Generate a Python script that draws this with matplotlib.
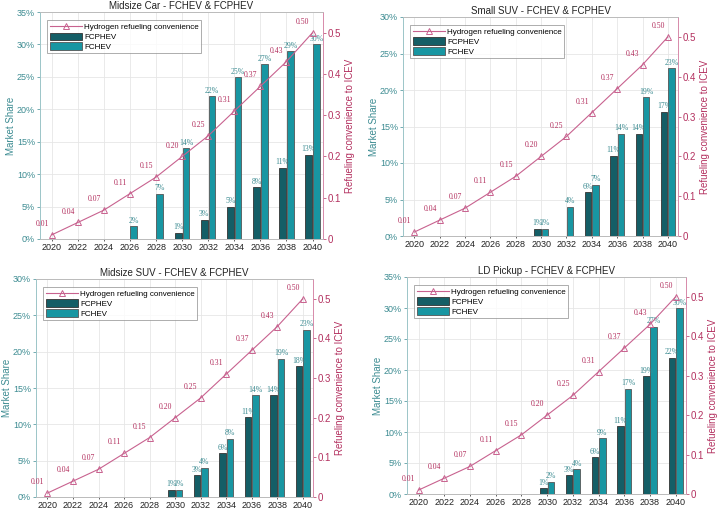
import matplotlib
matplotlib.use("Agg")
import matplotlib.pyplot as plt
import numpy as np

years = [2020, 2022, 2024, 2026, 2028, 2030, 2032, 2034, 2036, 2038, 2040]
convenience = [0.01, 0.04, 0.07, 0.11, 0.15, 0.20, 0.25, 0.31, 0.37, 0.43, 0.50]

titles = [
    "Midsize Car - FCHEV & FCPHEV",
    "Small SUV - FCHEV & FCPHEV",
    "Midsize SUV - FCHEV & FCPHEV",
    "LD Pickup - FCHEV & FCPHEV",
]
fcphev_car = [0, 0, 0, 0, 0, 1, 3, 5, 8, 11, 13]
fchev_car = [0, 0, 0, 2, 7, 14, 22, 25, 27, 29, 30]
fcphev_ssuv = [0, 0, 0, 0, 0, 1, 0, 6, 11, 14, 17]
fchev_ssuv = [0, 0, 0, 0, 0, 1, 4, 7, 14, 19, 23]
fcphev_msuv = [0, 0, 0, 0, 0, 1, 3, 6, 11, 14, 18]
fchev_msuv = [0, 0, 0, 0, 0, 1, 4, 8, 14, 19, 23]
fcphev_pickup = [0, 0, 0, 0, 0, 1, 3, 6, 11, 19, 22]
fchev_pickup = [0, 0, 0, 0, 0, 2, 4, 9, 17, 27, 30]
left_max = [35, 30, 30, 35]

# axes boxes in pixels: left, right, top, bottom
boxes = [(40, 323, 12, 239), (403, 678, 17, 236), (36, 313, 279, 497), (407, 686, 277, 494)]

C_DARK = "#145e66"
C_LIGHT = "#1896a2"
C_LINE = "#c8628f"
C_RED = "#b3305f"
C_TEAL = "#3d8c92"
W, H = 719, 512

plt.rcParams["font.family"] = ["Liberation Sans", "DejaVu Sans"]

fig = plt.figure(figsize=(W / 100, H / 100), dpi=100)

data = [
    (fcphev_car, fchev_car),
    (fcphev_ssuv, fchev_ssuv),
    (fcphev_msuv, fchev_msuv),
    (fcphev_pickup, fchev_pickup),
]

x = np.array(years)
for i, (title, (phev, hev), box) in enumerate(zip(titles, data, boxes)):
    l, r, t, b = box
    ax = fig.add_axes([l / W, 1 - b / H, (r - l) / W, (b - t) / H])
    ax2 = ax.twinx()

    b1 = ax.bar(x - 0.29, phev, width=0.52, color=C_DARK, edgecolor="#333333", linewidth=0.6, zorder=3)
    b2 = ax.bar(x + 0.29, hev, width=0.52, color=C_LIGHT, edgecolor="#555555", linewidth=0.6, zorder=3)
    for xx, v in zip(x, phev):
        if v > 0:
            ax.text(xx - 0.3, v + 0.2, f"{v}%", ha="center", va="bottom", fontsize=5.6,
                    family="Liberation Serif", color=C_TEAL, zorder=4)
    for xx, v in zip(x, hev):
        if v > 0:
            ax.text(xx + 0.3, v + 0.2, f"{v}%", ha="center", va="bottom", fontsize=5.6,
                    family="Liberation Serif", color=C_TEAL, zorder=4)

    (ln,) = ax2.plot(x, convenience, color=C_LINE, linewidth=0.8, marker="^", markersize=5,
                     markerfacecolor="none", markeredgecolor=C_LINE, markeredgewidth=0.7)
    for xx, v in zip(x, convenience):
        ax2.annotate(f"{v:.2f}", (xx, v), xytext=(-7, 5), textcoords="offset points",
                     ha="center", va="bottom", fontsize=5.6, family="Liberation Serif", color=C_RED)

    ax.set_xlim(2019.1, 2040.8)
    ax.set_xticks(years)
    ax.set_ylim(0, left_max[i])
    ax.set_yticks(range(0, left_max[i] + 1, 5))
    ax.set_yticklabels([f"{v}%" for v in range(0, left_max[i] + 1, 5)])
    ax2.set_ylim(0, 0.55)
    ax2.set_yticks([0, 0.1, 0.2, 0.3, 0.4, 0.5])
    ax2.set_yticklabels(["0", "0.1", "0.2", "0.3", "0.4", "0.5"])

    ax.grid(True, color="#e6e6e6", linewidth=0.6, zorder=0)
    ax.set_axisbelow(True)
    ax.tick_params(axis="x", labelsize=6.5, colors="#222222", length=1.5, width=0.5, pad=1.5)
    ax.tick_params(axis="y", labelsize=6.5, colors=C_TEAL, length=2, width=0.5, pad=1.5)
    ax2.tick_params(axis="y", labelsize=7, colors=C_RED, length=2, width=0.5, pad=1.5)
    ax.set_ylabel("Market Share", fontsize=7, color=C_TEAL, labelpad=1)
    ax2.set_ylabel("Refueling convenience to ICEV", fontsize=7, color=C_RED, labelpad=3)
    ax.set_title(title, fontsize=7, pad=2, color="#222222")

    for a in (ax, ax2):
        a.spines["top"].set_color("#bbbbbb")
        a.spines["bottom"].set_color("#bbbbbb")
        a.spines["left"].set_color("#9cc5c8")
        a.spines["right"].set_color("#d88aaa")
        for s in a.spines.values():
            s.set_linewidth(0.6)

    leg = ax2.legend([ln, b1, b2], ["Hydrogen refueling convenience", "FCPHEV", "FCHEV"],
                     loc="upper left", bbox_to_anchor=(0.02, 0.97), fontsize=5.8, frameon=True,
                     fancybox=False, borderpad=0.3, labelspacing=0.15, handlelength=4.0,
                     handleheight=1.1, handletextpad=0.3, borderaxespad=0.2)
    leg.get_frame().set_edgecolor("#888888")
    leg.get_frame().set_linewidth(0.6)

fig.savefig("out.png", dpi=100)
